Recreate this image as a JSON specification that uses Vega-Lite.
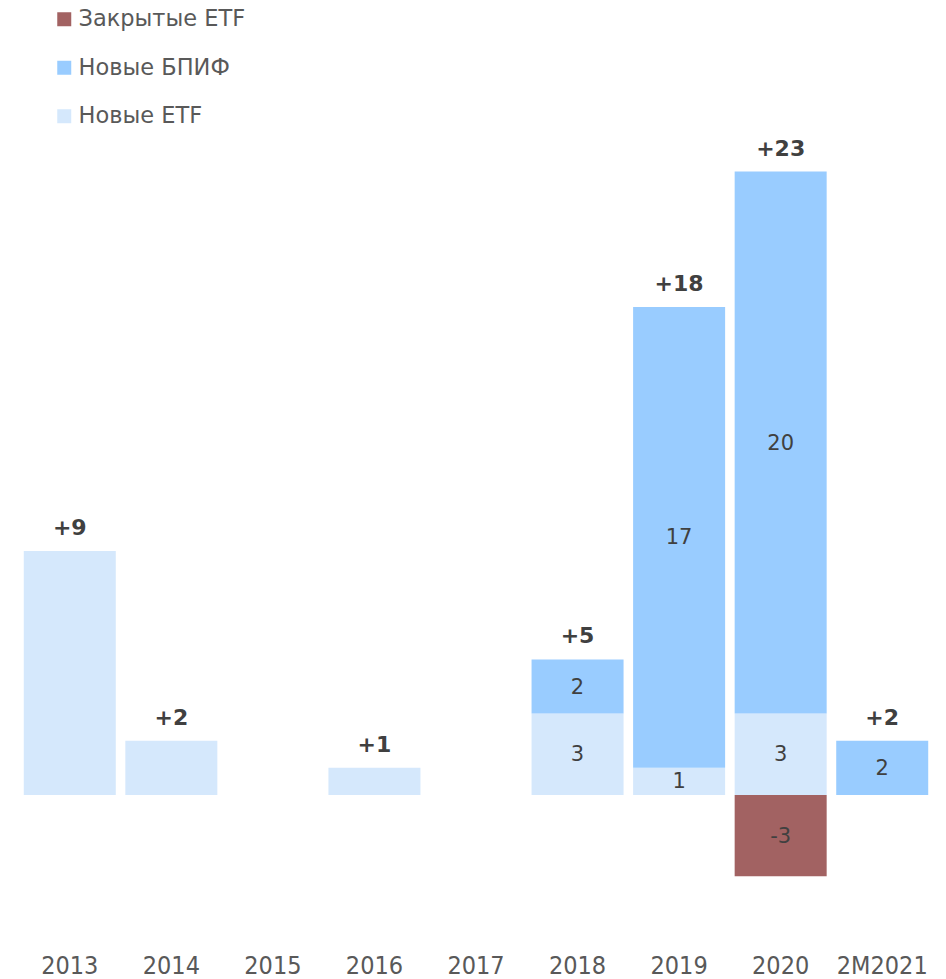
{
  "$schema": "https://vega.github.io/schema/vega-lite/v6.json",
  "width": 914,
  "height": 786,
  "autosize": {"type": "none"},
  "padding": {"left": 19, "top": 158, "right": 13, "bottom": 35},
  "background": "white",
  "config": {"view": {"stroke": null}},
  "data": {
    "values": [
      {"year": "2013", "type": "Новые ETF", "value": 9, "ord": 1},
      {"year": "2014", "type": "Новые ETF", "value": 2, "ord": 1},
      {"year": "2016", "type": "Новые ETF", "value": 1, "ord": 1},
      {"year": "2018", "type": "Новые ETF", "value": 3, "ord": 1},
      {"year": "2018", "type": "Новые БПИФ", "value": 2, "ord": 2},
      {"year": "2019", "type": "Новые ETF", "value": 1, "ord": 1},
      {"year": "2019", "type": "Новые БПИФ", "value": 17, "ord": 2},
      {"year": "2020", "type": "Новые ETF", "value": 3, "ord": 1},
      {"year": "2020", "type": "Новые БПИФ", "value": 20, "ord": 2},
      {"year": "2020", "type": "Закрытые ETF", "value": -3, "ord": 3},
      {"year": "2M2021", "type": "Новые БПИФ", "value": 2, "ord": 2}
    ]
  },
  "encoding": {
    "x": {
      "field": "year",
      "type": "nominal",
      "scale": {"domain": ["2013", "2014", "2015", "2016", "2017", "2018", "2019", "2020", "2M2021"], "paddingInner": 0.094, "paddingOuter": 0.047},
      "axis": {"title": null, "labelAngle": 0, "domain": false, "ticks": false, "labelFont": "DejaVu Sans Condensed, DejaVu Sans", "labelFontSize": 25, "labelColor": "#595959", "labelPadding": 9, "labelLimit": 300}
    }
  },
  "layer": [
    {
      "mark": {"type": "bar"},
      "encoding": {
        "y": {"field": "value", "type": "quantitative", "stack": "zero", "scale": {"domain": [-5.5, 23.5], "nice": false, "zero": false}, "axis": null},
        "color": {
          "field": "type",
          "type": "nominal",
          "scale": {"domain": ["Закрытые ETF", "Новые БПИФ", "Новые ETF"], "range": ["#a26262", "#99ccff", "#d5e8fc"]},
          "legend": {
            "title": null,
            "orient": "none",
            "legendX": 34,
            "legendY": -150,
            "symbolType": "square",
            "symbolSize": 196,
            "symbolStrokeWidth": 0,
            "symbolOpacity": 1,
            "labelFont": "DejaVu Sans",
            "labelFontSize": 22.5,
            "labelColor": "#595959",
            "labelOffset": 3,
            "labelLimit": 400,
            "rowPadding": 25.5
          }
        },
        "order": {"field": "ord", "type": "quantitative"}
      }
    },
    {
      "mark": {"type": "rule", "color": "#d9d9d9", "strokeWidth": 2},
      "encoding": {"y": {"datum": 0, "type": "quantitative"}}
    },
    {
      "transform": [
        {"filter": "datum.year != '2013' && datum.year != '2014' && datum.year != '2016'"},
        {"calculate": "'' + datum.value", "as": "vlabel"}
      ],
      "mark": {"type": "text", "font": "DejaVu Sans", "fontSize": 21, "color": "#404040", "baseline": "middle", "dy": 1},
      "encoding": {
        "y": {"field": "value", "type": "quantitative", "stack": "zero", "bandPosition": 0.5},
        "text": {"field": "vlabel", "type": "nominal"},
        "order": {"field": "ord", "type": "quantitative"}
      }
    },
    {
      "transform": [
        {"filter": "datum.value > 0"},
        {"aggregate": [{"op": "sum", "field": "value", "as": "total"}], "groupby": ["year"]},
        {"calculate": "'+' + datum.total", "as": "label"}
      ],
      "mark": {"type": "text", "font": "DejaVu Sans", "fontSize": 22, "fontWeight": "bold", "color": "#404040", "baseline": "alphabetic", "dy": -16},
      "encoding": {
        "y": {"field": "total", "type": "quantitative"},
        "text": {"field": "label", "type": "nominal"}
      }
    }
  ]
}
